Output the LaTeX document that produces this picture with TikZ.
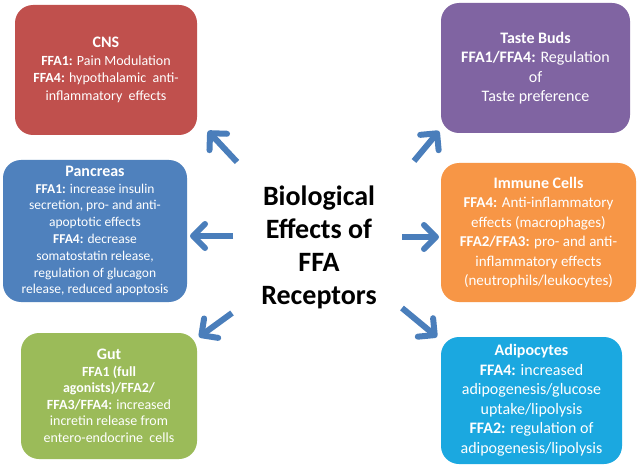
\documentclass[tikz,border=0pt]{standalone}
\usepackage{fontspec}
\setmainfont{Carlito}
\usetikzlibrary{arrows.meta}
\definecolor{cnsred}{HTML}{C0504D}
\definecolor{tastepurple}{HTML}{8064A2}
\definecolor{pancblue}{HTML}{4F81BD}
\definecolor{immorange}{HTML}{F79646}
\definecolor{gutgreen}{HTML}{9BBB59}
\definecolor{adicyan}{HTML}{1BA8E0}
\definecolor{arrowblue}{HTML}{4A7EBB}
\tikzset{
  box/.style={rounded corners=18pt, inner sep=0pt, align=center, text=white,
    font=\fontsize{14}{17.5}\selectfont},
  bigbody/.style={font=\fontsize{16}{19.5}\selectfont},
  midbody/.style={font=\fontsize{15}{19.5}\selectfont},
  pointer/.style={draw=arrowblue, line width=6pt,
    -{Straight Barb[length=12pt,width=24pt,round]}},
  title/.style={font=\fontsize{28}{33}\selectfont\bfseries, align=center, text=black}
}
\newcommand{\bt}[1]{{\fontsize{16}{19}\selectfont\textbf{#1}}}
\begin{document}
\begin{tikzpicture}[x=1pt,y=-1pt]
\useasboundingbox (0,0) rectangle (640,468);
\fill[white] (0,0) rectangle (640,468);

\node[box, fill=cnsred, minimum width=182pt, minimum height=130pt] (cns) at (106,70)
  {\bt{CNS}\\\textbf{FFA1:} Pain Modulation\\\textbf{FFA4:} hypothalamic\ \ anti-\\inflammatory\ \ effects};
\node[box, bigbody, fill=tastepurple, minimum width=189pt, minimum height=130pt] (taste) at (535.5,68)
  {\bt{Taste Buds}\\\textbf{FFA1/FFA4:} Regulation\\of\\Taste preference};
\node[box, fill=pancblue, minimum width=184pt, minimum height=142pt, font=\fontsize{13.5}{16.8}\selectfont] (panc) at (95,231)
  {\bt{Pancreas}\\\textbf{FFA1:} increase insulin\\secretion, pro- and anti-\\apoptotic effects\\\textbf{FFA4:} decrease\\somatostatin release,\\regulation of glucagon\\release, reduced apoptosis};
\node[box, midbody, fill=immorange, minimum width=195pt, minimum height=139pt] (imm) at (538.5,232.5)
  {\bt{Immune Cells}\\\textbf{FFA4:} Anti-inflammatory\\effects (macrophages)\\\textbf{FFA2/FFA3:} pro- and anti-\\inflammatory effects\\(neutrophils/leukocytes)};
\node[box, fill=gutgreen, minimum width=176pt, minimum height=126pt, font=\fontsize{14}{16.5}\selectfont] (gut) at (109,396)
  {\bt{Gut}\\\textbf{FFA1 (full}\\\textbf{agonists)/FFA2/}\\\textbf{FFA3/FFA4:} increased\\incretin release from\\entero-endocrine\ \ cells};
\node[box, bigbody, fill=adicyan, minimum width=181pt, minimum height=127pt] (adi) at (531.5,400.5)
  {\bt{Adipocytes}\\\textbf{FFA4:} increased\\adipogenesis/glucose\\uptake/lipolysis\\\textbf{FFA2:} regulation of\\adipogenesis/lipolysis};

\node[title] (center) at (319,247) {Biological\\Effects of\\FFA\\Receptors};

\coordinate (cnsT) at (237,162); \coordinate (cnsH) at (208,131);
\coordinate (tasT) at (414,161); \coordinate (tasH) at (439,131);
\coordinate (panT) at (233,236); \coordinate (panH) at (190,236);
\coordinate (immT) at (402,237); \coordinate (immH) at (439,237);
\coordinate (gutT) at (232,313); \coordinate (gutH) at (199,337);
\coordinate (adiT) at (402,308); \coordinate (adiH) at (437,337);

\draw[pointer] (cnsT) -- (cnsH);
\draw[pointer] (tasT) -- (tasH);
\draw[pointer] (panT) -- (panH);
\draw[pointer] (immT) -- (immH);
\draw[pointer] (gutT) -- (gutH);
\draw[pointer] (adiT) -- (adiH);
\end{tikzpicture}
\end{document}
